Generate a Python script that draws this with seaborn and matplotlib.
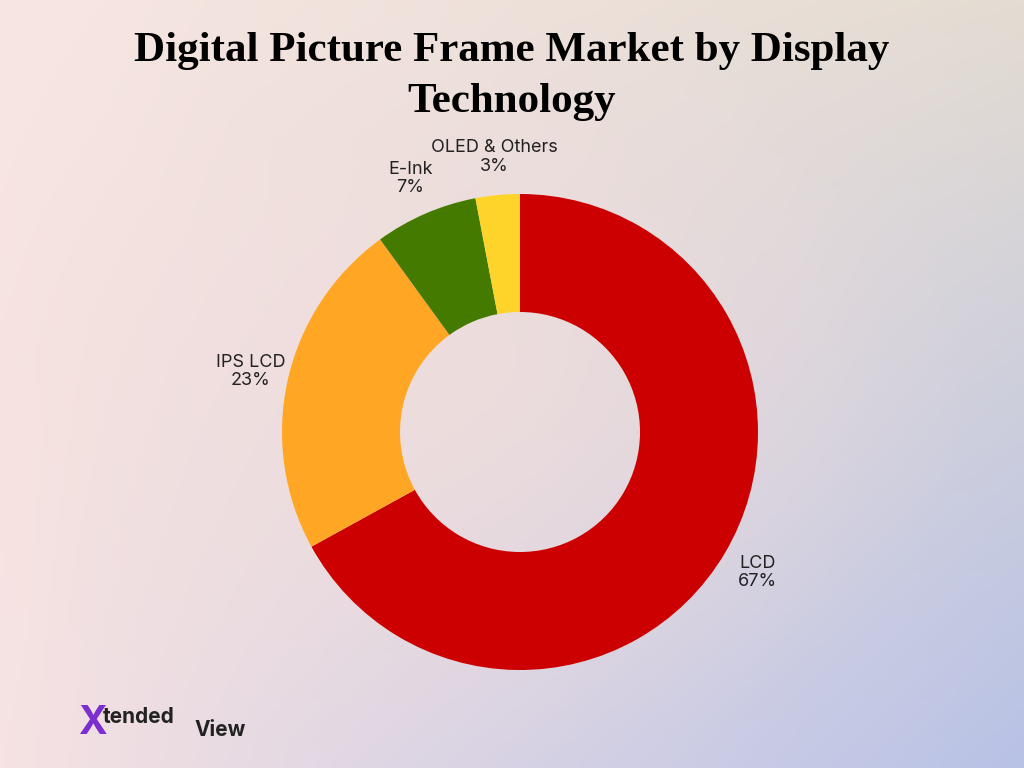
import numpy as np
import matplotlib
matplotlib.use("Agg")
import matplotlib.pyplot as plt
import seaborn as sns

labels = ["LCD", "IPS LCD", "E-Ink", "OLED & Others"]
shares = [67, 23, 7, 3]
colors = ["#cc0000", "#ffa724", "#457a00", "#ffd42a"]

sns.set_theme(style="white")
plt.rcParams['font.family'] = ['Inter', 'DejaVu Sans']

fig = plt.figure(figsize=(10.24, 7.68), dpi=100)

# gradient background
bg = fig.add_axes([0, 0, 1, 1])
h, w = 200, 260
yy, xx = np.mgrid[0:1:h*1j, 0:1:w*1j]
tl = np.array([248, 230, 226]) / 255
tr = np.array([228, 220, 210]) / 255
bl = np.array([246, 226, 226]) / 255
br = np.array([184, 194, 230]) / 255
c = np.array([244, 222, 218]) / 255
img = (tl * ((1 - xx) * (1 - yy))[..., None] + tr * (xx * (1 - yy))[..., None]
       + bl * ((1 - xx) * yy)[..., None] + br * (xx * yy)[..., None])
wc = np.clip(1 - 2 * np.hypot(xx - 0.45, yy - 0.5), 0, 1)[..., None] * 0.6
img = img * (1 - wc) + c * wc
bg.imshow(img, aspect="auto", extent=[0, 1, 0, 1], origin="upper")
bg.axis("off")

ax = fig.add_axes([(520 - 300) / 1024, 1 - (432 + 300) / 768, 600 / 1024, 600 / 768])
wedges, texts = ax.pie(shares, colors=colors, startangle=90, counterclock=False,
                       radius=238 / 300, wedgeprops=dict(width=118 / 300, edgecolor="none"),
                       labels=[f"{l}\n{s}%" for l, s in zip(labels, shares)],
                       labeldistance=1.16, textprops=dict(fontsize=13, color="#222222",
                                                          ha="center", linespacing=1.1))
ax.set_xlim(-1, 1)
ax.set_ylim(-1, 1)
ax.set_aspect("equal")

fig.text(0.5, 0.9, "Digital Picture Frame Market by Display\nTechnology", ha="center", va="center",
         fontsize=31, fontweight="bold", family=["Liberation Serif", "DejaVu Serif"],
         color="black", linespacing=1.45)

# logo
fig.text(0.076, 0.058, "X", fontsize=28, fontweight="bold", color="#7b2fd0", va="center")
fig.text(0.1, 0.066, "tended", fontsize=15, fontweight="bold", color="#222222", va="center")
fig.text(0.19, 0.05, "View", fontsize=15, fontweight="bold", color="#222222", va="center")

fig.savefig("out.png", dpi=100)
